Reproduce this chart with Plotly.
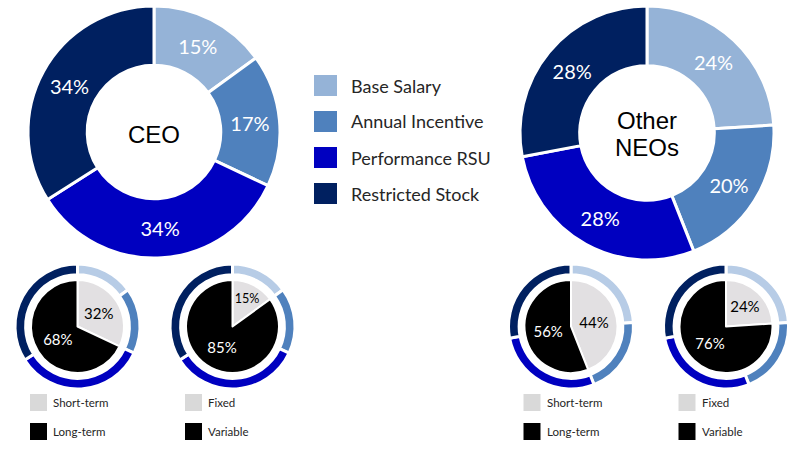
import plotly.graph_objects as go

# pay mix data (percent of target pay)
components = ["Base Salary", "Annual Incentive", "Performance RSU", "Restricted Stock"]
ceo_mix = [15, 17, 34, 34]
neo_mix = [24, 20, 28, 28]

term_labels = ["Short-term", "Long-term"]
ceo_term = [32, 68]
neo_term = [44, 56]

pay_labels = ["Fixed", "Variable"]
ceo_pay = [15, 85]
neo_pay = [24, 76]

big_colors = ["#95B3D7", "#4F81BD", "#0000C0", "#002060"]
ring_colors = ["#B7CCE6", "#4F81BD", "#0000C0", "#002060"]
inner_colors = ["#E2E0E2", "#000000"]
inner_text = ["#000000", "#FFFFFF"]

W, H = 811, 457
LABEL_FONT = "Lato"


def px(x):
    return x / W


def py(y):
    return 1 - y / H


def dom(cx, cy, r):
    return {"x": [px(cx - r), px(cx + r)], "y": [py(cy + r), py(cy - r)]}


def big_donut(values, cx, cy, r):
    return go.Pie(labels=components, values=values, domain=dom(cx, cy, r), hole=0.53,
                  sort=False, direction="clockwise", rotation=0,
                  marker={"colors": big_colors, "line": {"color": "white", "width": 3}},
                  texttemplate="%{value}%", textposition="inside",
                  insidetextorientation="horizontal",
                  textfont={"family": LABEL_FONT, "size": 20, "color": "white"},
                  showlegend=False)


def small_ring(values, cx, cy):
    return go.Pie(labels=components, values=values, domain=dom(cx, cy, 62.5), hole=0.83,
                  sort=False, direction="clockwise", rotation=0,
                  marker={"colors": ring_colors, "line": {"color": "white", "width": 3}},
                  textinfo="none", showlegend=False)


def small_pie(labels, values, cx, cy):
    return go.Pie(labels=labels, values=values, domain=dom(cx, cy, 46.5),
                  sort=False, direction="clockwise", rotation=0,
                  marker={"colors": inner_colors, "line": {"color": "white", "width": 2}},
                  texttemplate="%{value}%", textposition="inside",
                  insidetextorientation="horizontal",
                  textfont={"family": LABEL_FONT, "size": 15, "color": inner_text},
                  showlegend=False)


fig = go.Figure()
fig.add_trace(big_donut(ceo_mix, 154, 132, 126))
fig.add_trace(big_donut(neo_mix, 647, 133, 127))

small_centers = [(77.5, 326.5, term_labels, ceo_term, ceo_mix),
                 (232.5, 326.5, pay_labels, ceo_pay, ceo_mix),
                 (571, 326.5, term_labels, neo_term, neo_mix),
                 (726, 326.5, pay_labels, neo_pay, neo_mix)]
for cx, cy, labels, vals, mix in small_centers:
    fig.add_trace(small_ring(mix, cx, cy))
    fig.add_trace(small_pie(labels, vals, cx, cy))

shapes = []
annotations = []


def label(x, y, text, size, family=LABEL_FONT, xanchor="left", color="#262626"):
    annotations.append(dict(x=px(x), y=py(y), text=text, showarrow=False,
                            xref="paper", yref="paper", xanchor=xanchor, yanchor="middle",
                            font={"family": family, "size": size, "color": color}))


# centre titles
label(154, 134, "CEO", 24, "Liberation Sans", "center", "black")
label(647, 120, "Other", 24, "Liberation Sans", "center", "black")
label(647, 147, "NEOs", 24, "Liberation Sans", "center", "black")

# main legend
for i, (name, col) in enumerate(zip(components, big_colors)):
    yc = 85.5 + i * 36
    shapes.append(dict(type="rect", xref="paper", yref="paper",
                       x0=px(314), x1=px(337), y0=py(yc + 10.5), y1=py(yc - 10.5),
                       fillcolor=col, line={"width": 0}))
    label(349, yc, name, 18)

# small legends
for cx, cy, labels, vals, mix in small_centers:
    x0 = cx - 47.5
    for j, (name, col) in enumerate(zip(labels, ["#D9D9D9", "#000000"])):
        yc = 402.5 + j * 29
        shapes.append(dict(type="rect", xref="paper", yref="paper",
                           x0=px(x0), x1=px(x0 + 17), y0=py(yc + 8.5), y1=py(yc - 8.5),
                           fillcolor=col, line={"width": 0}))
        label(x0 + 21, yc, name, 11.5)

fig.update_layout(width=W, height=H, margin={"l": 0, "r": 0, "t": 0, "b": 0},
                  paper_bgcolor="white", plot_bgcolor="white",
                  shapes=shapes, annotations=annotations)

# drop the default page margin so the figure fills the window exactly
fig.write_html("out.html", config={"displayModeBar": False},
               post_script="document.body.style.margin = '0px';")
